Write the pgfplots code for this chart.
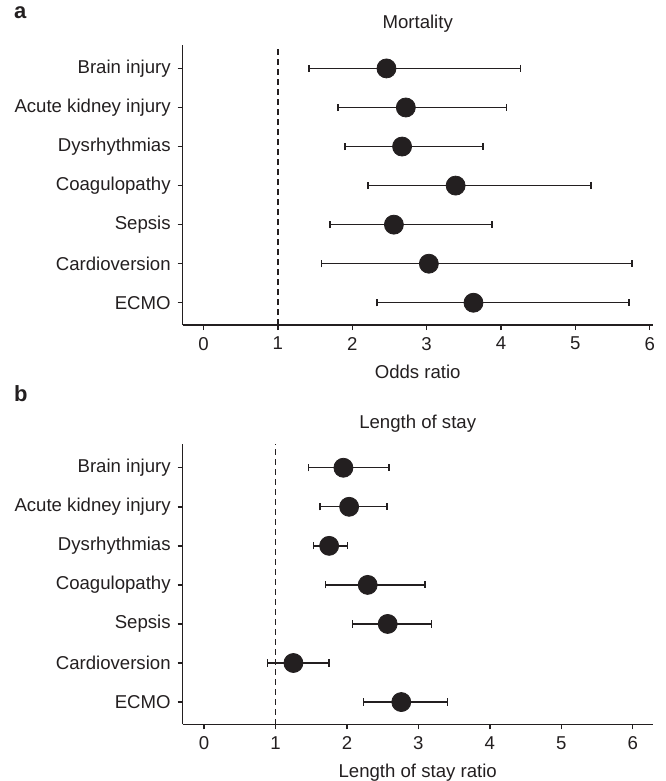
\documentclass[border=0pt]{standalone}
\usepackage{fontspec}
\setmainfont{Liberation Sans}
\usepackage{pgfplots}
\pgfplotsset{compat=1.18}
\usepackage{pgfplotstable}

\definecolor{ink}{HTML}{231F20}

\pgfplotstableread{
pos or   lo   hi
6   2.46 1.42 4.26
5   2.72 1.81 4.07
4   2.67 1.90 3.76
3   3.39 2.21 5.21
2   2.56 1.70 3.88
1   3.03 1.59 5.76
0   3.63 2.33 5.72
}\mort

\pgfplotstableread{
pos or   lo   hi
6   1.95 1.46 2.59
5   2.03 1.62 2.56
4   1.75 1.53 2.01
3   2.29 1.70 3.09
2   2.57 2.08 3.18
1   1.25 0.89 1.75
0   2.76 2.23 3.41
}\los

\pgfplotsset{forest/.style={
  width=235pt, height=140pt, scale only axis,
  axis x line*=bottom, axis y line*=left,
  axis line style={ink, line width=0.75pt},
  tick style={ink, line width=0.75pt},
  tick align=outside, major tick length=2.5pt,
  xtick={0,...,6}, ytick={0,...,6},
  yticklabels={ECMO,Cardioversion,Sepsis,Coagulopathy,Dysrhythmias,Acute kidney injury,Brain injury},
  ymin=-0.57, ymax=6.6,
  /pgf/number format/assume math mode=true,
  ticklabel style={font=\fontsize{9.3}{11}\selectfont, text=ink},
  label style={font=\fontsize{9.3}{11}\selectfont, text=ink},
  xlabel style={yshift=-0.6pt},
  title style={font=\fontsize{9.3}{11}\selectfont, text=ink, at={(0.5,1)}, anchor=center, yshift=4.5pt},
  clip=false,
}}

\begin{document}
\begin{tikzpicture}
\useasboundingbox (0pt,0pt) rectangle (332.5pt,-390.5pt);
\node[anchor=west, font=\bfseries\fontsize{11}{12}\selectfont, text=ink] at (3.5pt,-6.5pt) {a};
\node[anchor=west, font=\bfseries\fontsize{11}{12}\selectfont, text=ink] at (3.5pt,-197pt) {b};

\begin{axis}[forest, at={(91.35pt,-162.5pt)}, anchor=south west,
  xmin=-0.28, xmax=6.04, title={Mortality}, xlabel={Odds ratio}]
  \addplot[ink, line width=0.75pt, dash pattern=on 3pt off 2pt] coordinates {(1,-0.57) (1,6.6)};
  \addplot[only marks, mark=none, error bars/.cd, x dir=both, x explicit,
    error bar style={ink, line width=0.7pt},
    error mark options={ink, line width=0.7pt, mark size=1.8pt, rotate=90}]
    table[x=or, y=pos, x error plus expr=\thisrow{hi}-\thisrow{or}, x error minus expr=\thisrow{or}-\thisrow{lo}] {\mort};
  \addplot[only marks, mark=*, mark size=4.75pt, mark options={fill=ink, draw=ink}]
    table[x=or, y=pos] {\mort};
\end{axis}

\begin{axis}[forest, at={(91.35pt,-362.15pt)}, anchor=south west,
  xmin=-0.30, xmax=6.28, title={Length of stay}, xlabel={Length of stay ratio}]
  \addplot[ink, line width=0.75pt, dash pattern=on 3pt off 2pt] coordinates {(1,-0.58) (1,6.6)};
  \addplot[only marks, mark=none, error bars/.cd, x dir=both, x explicit,
    error bar style={ink, line width=0.7pt},
    error mark options={ink, line width=0.7pt, mark size=1.8pt, rotate=90}]
    table[x=or, y=pos, x error plus expr=\thisrow{hi}-\thisrow{or}, x error minus expr=\thisrow{or}-\thisrow{lo}] {\los};
  \addplot[only marks, mark=*, mark size=4.75pt, mark options={fill=ink, draw=ink}]
    table[x=or, y=pos] {\los};
\end{axis}
\end{tikzpicture}
\end{document}
